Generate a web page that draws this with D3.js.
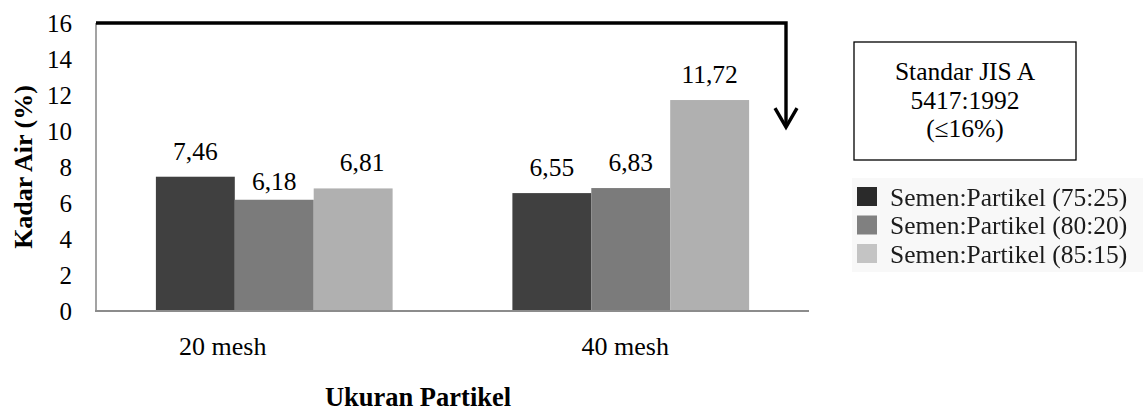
<!DOCTYPE html>
<html>
<head>
<meta charset="utf-8">
<script src="https://cdn.jsdelivr.net/npm/d3@7/dist/d3.min.js"></script>
<style>
  html, body { margin: 0; padding: 0; background: #fff; }
  svg { display: block; }
  text { font-family: "Liberation Serif", "Times New Roman", serif; fill: #000; }
</style>
</head>
<body>
<svg id="chart" width="1143" height="412"></svg>
<script>
// Moisture content of cement-bonded particleboard by particle size
const categories = ["20 mesh", "40 mesh"];
const seriesNames = [
  "Semen:Partikel (75:25)",
  "Semen:Partikel (80:20)",
  "Semen:Partikel (85:15)"
];
const values7525 = [7.46, 6.55];
const values8020 = [6.18, 6.83];
const values8515 = [6.81, 11.72];
const yTicks = [0, 2, 4, 6, 8, 10, 12, 14, 16];
const standardLimit = 16;
const standardLines = ["Standar JIS A", "5417:1992", "(\u226416%)"];
const yTitle = "Kadar Air (%)";
const xTitle = "Ukuran Partikel";

// ---- layout ----
const plot = { left: 96, right: 809, top: 23, bottom: 311 };
const colors = ["#404040", "#7b7b7b", "#b0b0b0"];
const legendColors = ["#2a2a2a", "#808080", "#c4c4c4"];
const fmt = v => v.toFixed(2).replace(".", ",");

const seriesValues = [values7525, values8020, values8515];
const rows = categories.map((c, i) => ({
  category: c,
  bars: seriesNames.map((s, k) => ({ series: s, k, value: seriesValues[k][i] }))
}));

const svg = d3.select("#chart");

const x = d3.scaleBand()
  .domain(categories)
  .range([plot.left, plot.right])
  .paddingInner(0.336)
  .paddingOuter(0.168);

const xs = d3.scaleBand()
  .domain(seriesNames)
  .range([0, x.bandwidth()]);

const y = d3.scaleLinear()
  .domain([0, 16])
  .range([plot.bottom, plot.top]);

// category labels sit a little left of their groups
const xLabel = d3.scalePoint()
  .domain(categories)
  .range([x("20 mesh") + x.bandwidth() / 2 - 52, x("40 mesh") + x.bandwidth() / 2 - 6]);

// bars
const groups = svg.append("g").selectAll("g")
  .data(rows).join("g")
  .attr("transform", d => `translate(${x(d.category)},0)`);

groups.selectAll("rect")
  .data(d => d.bars).join("rect")
  .attr("x", d => xs(d.series))
  .attr("width", xs.bandwidth())
  .attr("y", d => y(d.value))
  .attr("height", d => y(0) - y(d.value))
  .attr("fill", d => colors[d.k]);

// value labels (one label nudged to clear its neighbours)
const nudge = { "20 mesh|1": { dx: 0, dy: 7 }, "20 mesh|2": { dx: 9, dy: 0 } };
groups.each(function (g) {
  d3.select(this).selectAll("text.val")
    .data(g.bars).join("text")
    .attr("class", "val")
    .attr("x", d => xs(d.series) + xs.bandwidth() / 2 + ((nudge[g.category + "|" + d.k] || {}).dx || 0))
    .attr("y", d => y(d.value) - 17 + ((nudge[g.category + "|" + d.k] || {}).dy || 0))
    .attr("text-anchor", "middle")
    .style("font-size", "25.5px")
    .text(d => fmt(d.value));
});

// axes
svg.append("line")
  .attr("x1", plot.left).attr("x2", plot.left)
  .attr("y1", y(16)).attr("y2", y(0))
  .attr("stroke", "#8c8c8c").attr("stroke-width", 1.6);
svg.append("line")
  .attr("x1", plot.left - 1).attr("x2", plot.right)
  .attr("y1", y(0)).attr("y2", y(0))
  .attr("stroke", "#8c8c8c").attr("stroke-width", 2);

const yAxis = svg.append("g")
  .attr("transform", `translate(${plot.left - 24},0)`)
  .call(d3.axisLeft(y).tickValues(yTicks).tickSize(0).tickPadding(0).tickFormat(d3.format("d")));
yAxis.select(".domain").remove();
yAxis.selectAll("text")
  .attr("dy", "0.34em")
  .style("font-family", "'Liberation Serif', serif")
  .style("font-size", "25px")
  .attr("fill", "#000");

const xAxis = svg.append("g")
  .attr("transform", `translate(0,${y(0)})`)
  .call(d3.axisBottom(xLabel).tickSize(0).tickPadding(0));
xAxis.select(".domain").remove();
xAxis.selectAll("text")
  .attr("y", 44).attr("dy", 0)
  .style("font-family", "'Liberation Serif', serif")
  .style("font-size", "26px")
  .attr("fill", "#000");

// axis titles
svg.append("text")
  .attr("transform", `translate(23,${(y(0) + y(16)) / 2}) rotate(-90)`)
  .attr("text-anchor", "middle")
  .attr("dominant-baseline", "central")
  .style("font-size", "26px")
  .style("font-weight", "bold")
  .text(yTitle);

svg.append("text")
  .attr("x", 418).attr("y", 406)
  .attr("text-anchor", "middle")
  .style("font-size", "26.5px")
  .style("font-weight", "bold")
  .text(xTitle);

// standard limit bracket with arrow
const bendX = plot.right - 23;
const tipY = y(10.22);
svg.append("path")
  .attr("d", d3.line()([[plot.left, y(standardLimit)], [bendX, y(standardLimit)], [bendX, tipY]]))
  .attr("fill", "none").attr("stroke", "#000").attr("stroke-width", 3.4)
  .attr("stroke-linejoin", "miter");
svg.append("path")
  .attr("d", d3.line()([[bendX - 11, tipY - 19], [bendX, tipY], [bendX + 11, tipY - 19]]))
  .attr("fill", "none").attr("stroke", "#000").attr("stroke-width", 3.4)
  .attr("stroke-linejoin", "miter");

// standard box
const box = { x: 854, y: 42, w: 222, h: 118 };
svg.append("rect")
  .attr("x", box.x).attr("y", box.y).attr("width", box.w).attr("height", box.h)
  .attr("fill", "#fff").attr("stroke", "#000").attr("stroke-width", 1.3);
svg.append("g").selectAll("text")
  .data(standardLines).join("text")
  .attr("x", box.x + box.w / 2)
  .attr("y", (d, i) => 80 + i * 28.5)
  .attr("text-anchor", "middle")
  .style("font-size", "25.5px")
  .text(d => d);

// legend (slightly soft)
const defs = svg.append("defs");
defs.append("filter").attr("id", "soft")
  .append("feGaussianBlur").attr("stdDeviation", 0.55);
const legend = svg.append("g").attr("filter", "url(#soft)");
legend.append("rect")
  .attr("x", 852).attr("y", 178).attr("width", 291).attr("height", 94)
  .attr("fill", "#f8f8f8");
const items = legend.selectAll("g.item")
  .data(seriesNames).join("g")
  .attr("class", "item")
  .attr("transform", (d, i) => `translate(857,${197 + i * 28.5})`);
items.append("rect")
  .attr("x", 0).attr("y", -10).attr("width", 20).attr("height", 19)
  .attr("fill", (d, i) => legendColors[i]);
items.append("text")
  .attr("x", 33).attr("y", 0)
  .attr("dominant-baseline", "central")
  .style("font-size", "25.5px")
  .style("fill", "#1a1a1a")
  .text(d => d);
</script>
</body>
</html>
